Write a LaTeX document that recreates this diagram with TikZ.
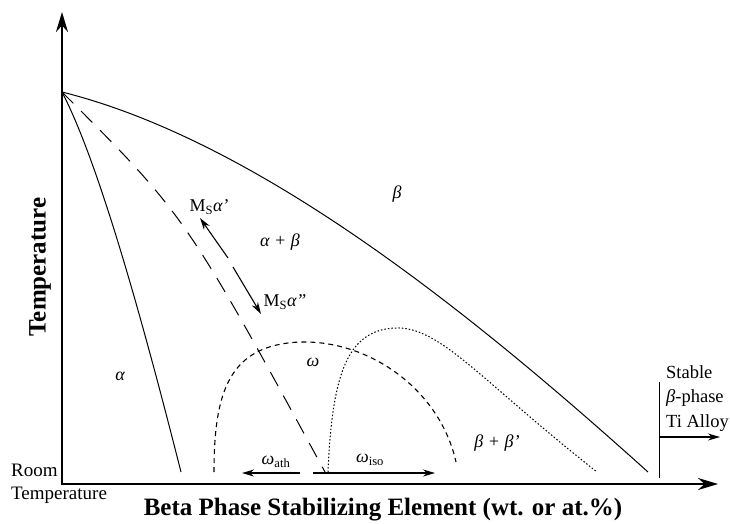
\documentclass[tikz,border=0pt]{standalone}
\usepackage{fontspec}
\setmainfont{Liberation Serif}
\usetikzlibrary{arrows.meta}
\tikzset{
  axis/.style={line width=2.2pt,{Stealth[length=20pt,width=12pt]}-{Stealth[length=20pt,width=12pt]}},
  phase/.style={line width=1pt},
  msline/.style={line width=1pt,dash pattern=on 16pt off 11pt},
  athline/.style={line width=1.1pt,dash pattern=on 5pt off 4pt},
  isoline/.style={line width=1pt,dash pattern=on 1.5pt off 2pt},
  pointer/.style={line width=1.1pt,-{Stealth[length=12pt,width=7pt]}},
  lbl/.style={inner sep=0pt,font=\fontsize{18}{22}\selectfont},
  side/.style={inner sep=0pt,font=\fontsize{19}{24}\selectfont},
  axlabel/.style={inner sep=0pt,font=\bfseries\fontsize{25}{30}\selectfont}
}
\begin{document}
\begin{tikzpicture}[x=1pt,y=-1pt]
                        \useasboundingbox (0,0) rectangle (730,523);
                        \coordinate(O)at(62,484);
                        \coordinate(T)at(62,92);
                        \coordinate(Ytip)at(62,12);
                        \coordinate(Xtip)at(718,484);
                        \draw[axis](Ytip)|-(Xtip);
                        \draw[phase](T)..controls(262,142)and(478,319)..(648,472);
                        \draw[phase](T)..controls(100,165)and(145,330)..(181,472);
                        \draw[msline](T)..controls(185,215)..(325,472);
                        \draw[athline](214,472)..controls(214,390)and(230,345)..(300,342)
                            ..controls(370,340)and(440,390)..(456,462);
                        \draw[isoline](328,472)..controls(332,380)and(345,330)..(395,328)
                            ..controls(440,326)and(480,380)..(597,472);
                        \coordinate(MsA)at(228,258);
                        \coordinate(MsAe)at(200,218);
                        \coordinate(MsB)at(233,267);
                        \coordinate(MsBe)at(261,314);
                        \draw[pointer](MsA)--(MsAe);
                        \draw[pointer](MsB)--(MsBe);
                        \coordinate(ath)at(300,473);
                        \coordinate(athe)at(242,473);
                        \coordinate(iso)at(313,473);
                        \coordinate(isoe)at(435,473);
                        \draw[pointer](ath)--(athe);
                        \draw[pointer](iso)--(isoe);
                        \coordinate(Sb)at(659,382);
                        \coordinate(Se)at(659,478);
                        \coordinate(Sa)at(659,437);
                        \coordinate(Sae)at(720,437);
                        \draw[phase](Sb)--(Se);
                        \draw[pointer](Sa)--(Sae);
                        \node[lbl](beta)at(397,194){\itshape β};
                        \node[lbl](ab)at(280,242){\itshape α + β};
                        \node[lbl](msa)at(209,207){M\textsubscript{S}\itshape α'};
                        \node[lbl](msb)at(285,302){M\textsubscript{S}\itshape α''};
                        \node[lbl](alpha)at(120,376){\itshape α};
                        \node[lbl](omega)at(313,362){\itshape ω};
                        \node[lbl](omath)at(276,462){\itshape ω\textsubscript{\upshape ath}};
                        \node[lbl](omiso)at(370,460){\itshape ω\textsubscript{\upshape iso}};
                        \node[lbl](bb)at(497,443){\itshape β + β'};
                        \node[side,anchor=west](room)at(11,470){Room};
                        \node[side,anchor=west](roomt)at(11,495){Temperature};
                        \node[side,anchor=north west,align=left,font=\fontsize{18.5}{24.5}\selectfont](stable)at(666,365){Stable\\{\itshape β}-phase\\Ti Alloy};
                        \node[axlabel,rotate=90](ylab)at(40,267){Temperature};
                        \node[axlabel](xlab)at(383,510){Beta Phase Stabilizing Element (wt. or at.\%)};
                    \end{tikzpicture}
\end{document}
